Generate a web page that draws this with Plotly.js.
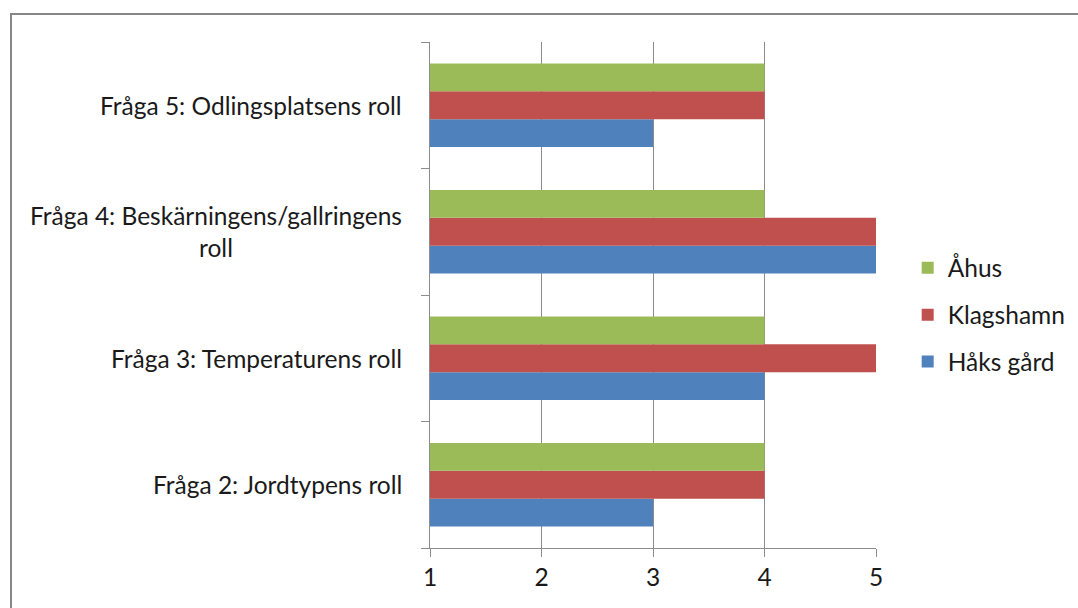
<!DOCTYPE html>
<html>
<head>
<meta charset="utf-8">
<script src="https://cdn.plot.ly/plotly-3.0.1.min.js"></script>
<style>
  html, body { margin: 0; padding: 0; background: #fff; }
  #wrap { position: relative; width: 1078px; height: 608px; overflow: hidden; }
  #chart { width: 1078px; height: 608px; }
  #frame { position: absolute; left: 10px; top: 13px; width: 1100px; height: 700px;
           border: 2px solid #878787; pointer-events: none; box-sizing: border-box; }
</style>
</head>
<body>
<div id="wrap">
  <div id="chart"></div>
  <div id="frame"></div>
</div>
<script>
const categories = [
  "Fråga 2: Jordtypens roll",
  "Fråga 3: Temperaturens roll",
  "Fråga 4: Beskärningens/gallringens<br>roll",
  "Fråga 5: Odlingsplatsens roll"
];
const haksGard = [3, 4, 5, 3];
const klagshamn = [4, 5, 5, 4];
const ahus = [4, 4, 4, 4];
const seriesNames = ["Håks gård", "Klagshamn", "Åhus"];
const seriesColors = ["#4F81BD", "#C0504D", "#9BBB59"];
const xTicks = [1, 2, 3, 4, 5];

const fontFamily = "Lato, 'Open Sans', sans-serif";
const txtColor = "#1a1a1a";
const fsize = 24.5;

const seriesValues = [haksGard, klagshamn, ahus];
const traces = seriesValues.map((vals, i) => ({
  type: "bar",
  orientation: "h",
  name: seriesNames[i],
  y: categories,
  x: vals,
  legendgroup: "g" + i,
  legendrank: 10 - i,
  marker: { color: seriesColors[i], line: { width: 0 } },
  hoverinfo: "x+name"
}));

const annotations = categories.map(c => ({
  xref: "paper", yref: "y", x: 0, y: c,
  xanchor: "right", yanchor: "middle", xshift: -26,
  text: c, showarrow: false, align: "center",
  font: { family: fontFamily, size: fsize, color: txtColor }
}));

const layout = {
  width: 1078, height: 608,
  margin: { l: 430, r: 202, t: 42, b: 60, autoexpand: false },
  paper_bgcolor: "#ffffff", plot_bgcolor: "#ffffff",
  barmode: "group", bargap: 0.34, bargroupgap: 0,
  font: { family: fontFamily, size: fsize, color: txtColor },
  xaxis: {
    range: [1, 5], tickvals: xTicks, ticktext: xTicks.map(String),
    showgrid: true, gridcolor: "#8c8c8c", gridwidth: 1,
    showline: true, linecolor: "#8c8c8c", linewidth: 1,
    ticks: "outside", ticklen: 8, tickcolor: "#8c8c8c",
    zeroline: false, fixedrange: true,
    tickfont: { family: fontFamily, size: fsize, color: txtColor }
  },
  yaxis: {
    type: "category", categoryarray: categories, categoryorder: "array",
    showticklabels: false, showgrid: false,
    showline: true, linecolor: "#8c8c8c", linewidth: 1,
    ticks: "outside", ticklen: 8, tickcolor: "#8c8c8c", tickson: "boundaries",
    zeroline: false, fixedrange: true
  },
  legend: {
    xref: "container", yref: "container",
    x: 0.842, xanchor: "left", y: 0.482, yanchor: "middle",
    traceorder: "grouped", tracegroupgap: 12,
    font: { family: fontFamily, size: fsize, color: txtColor },
    bgcolor: "rgba(0,0,0,0)", itemclick: false, itemwidth: 30
  },
  annotations: annotations,
  showlegend: true
};

Plotly.newPlot("chart", traces, layout, { displayModeBar: false, staticPlot: true });
</script>
</body>
</html>
